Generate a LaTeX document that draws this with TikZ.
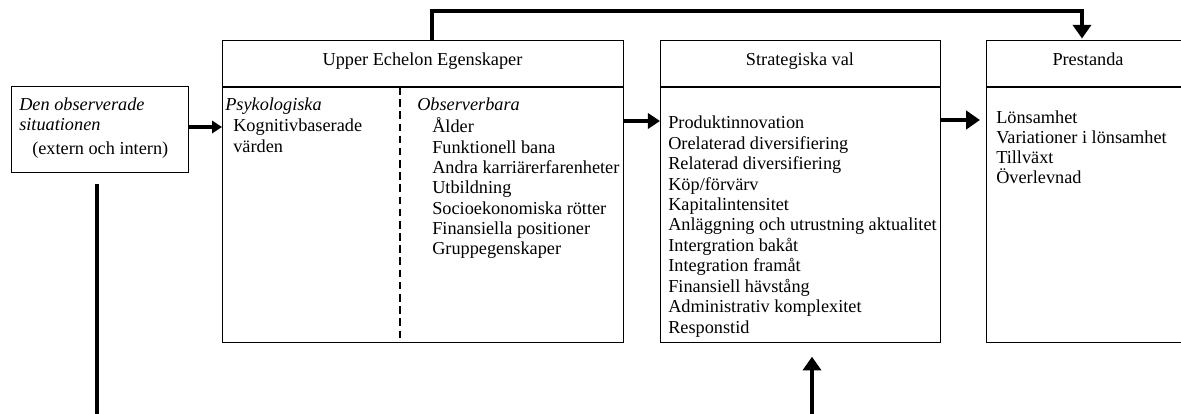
\documentclass[tikz,border=0pt]{standalone}
\usepackage{fontspec}
\setmainfont{Liberation Serif}
\usetikzlibrary{arrows.meta}

\newcommand{\pxl}{0.657pt}

\tikzset{
	box/.style={draw, line width=0.7pt, rectangle, anchor=north west, inner sep=0pt},
	txt/.style={anchor=base west, inner sep=0pt, font=\fontsize{12}{13.4}\selectfont},
	ttl/.style={anchor=base, inner sep=0pt, font=\fontsize{12}{13.4}\selectfont},
	arr/.style={line width=2pt, -{Triangle[width=12pt,length=9pt]}},
	bar/.style={line width=2pt}
}

\begin{document}
\begin{tikzpicture}[x=0.657pt,y=-0.657pt]
	\useasboundingbox (0,0) rectangle (1181,414);
	\clip (0,0) rectangle (1181,414);
	% boxes
	\node[box, minimum width=177*\pxl, minimum height=86*\pxl] (sit) at (11,86) {};
	\node[box, minimum width=401*\pxl, minimum height=302*\pxl] (ue) at (222,40) {};
	\node[box, minimum width=280*\pxl, minimum height=302*\pxl] (sv) at (660,40) {};
	\node[box, minimum width=204*\pxl, minimum height=302*\pxl] (pr) at (986,40) {};
	\draw[line width=0.7pt] (222,87) -- (623,87);
	\draw[line width=0.7pt] (660,87) -- (940,87);
	\draw[line width=0.7pt] (986,87) -- (1190,87);
	\draw[line width=0.7pt, dash pattern=on 5pt off 3pt] (400,87) -- (400,342);
	% titles
	\node[ttl] (uetitle) at (422.5,66) {Upper Echelon Egenskaper};
	\node[ttl] (svtitle) at (800,66) {Strategiska val};
	\node[ttl] (prtitle) at (1088,66) {Prestanda};
	% situation
	\node[txt] (sit1) at (19,111) {\itshape Den observerade};
	\node[txt] (sit2) at (19,131) {\itshape situationen};
	\node[txt] (sit3) at (32,155) {(extern och intern)};
	% upper echelon
	\node[txt] (psyk) at (225,111) {\itshape Psykologiska};
	\node[txt] (psyk1) at (233,132) {Kognitivbaserade};
	\node[txt] (psyk2) at (233,153) {värden};
	\node[txt] (obs) at (417,111) {\itshape Observerbara};
	\foreach \t [count=\i from 0] in {Ålder, Funktionell bana, Andra karriärerfarenheter, Utbildning, Socioekonomiska rötter, Finansiella positioner, Gruppegenskaper}
		\node[txt] (obs\i) at (432,133+20.3*\i) {\t};
	% strategiska val
	\foreach \t [count=\i from 0] in {Produktinnovation, Orelaterad diversifiering, Relaterad diversifiering, Köp/förvärv, Kapitalintensitet, Anläggning och utrustning aktualitet, Intergration bakåt, Integration framåt, Finansiell hävstång, Administrativ komplexitet, Responstid}
		\node[txt] (sv\i) at (668,129+20.4*\i) {\t};
	% prestanda
	\foreach \t [count=\i from 0] in {Lönsamhet, Variationer i lönsamhet, Tillväxt, Överlevnad}
		\node[txt] (pr\i) at (996,124+20*\i) {\t};
	% connectors
	\coordinate (sitout) at (97,414);
	\coordinate (svin) at (812,414);
	\draw[arr, -{Triangle[width=8pt,length=6.5pt]}] ([yshift=-41*\pxl]sit.north east) -- ([yshift=-87*\pxl]ue.north west);
	\draw[arr, -{Triangle[width=10pt,length=8pt]}] ([yshift=-81*\pxl]ue.north east) -- ([yshift=-81*\pxl]sv.north west);
	\draw[arr, shorten >=4pt] ([yshift=-80*\pxl]sv.north east) -- ([yshift=-80*\pxl]pr.north west);
	\draw[arr, shorten >=1pt] ([xshift=210*\pxl]ue.north west) -- ++(0,-29) -| ([xshift=96*\pxl]pr.north west);
	\draw[arr, shorten >=9pt] (svin) -- (svin |- sv.south);
	\draw[bar, shorten <=7pt] (sitout |- sit.south) -- (sitout);
\end{tikzpicture}
\end{document}
